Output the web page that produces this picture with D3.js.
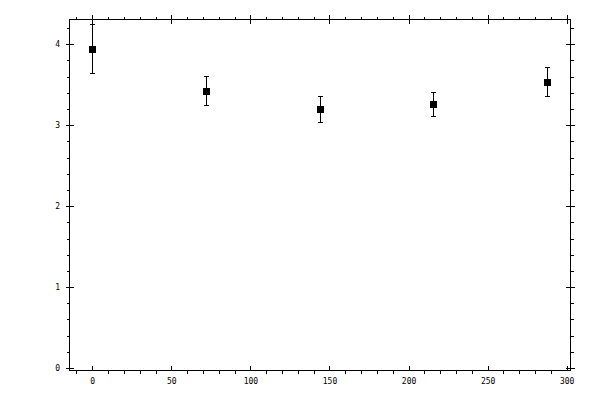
<!DOCTYPE html>
<html>
<head>
<meta charset="utf-8">
<script src="https://cdn.jsdelivr.net/npm/d3@7"></script>
<style>
  body { margin: 0; background: #fff; }
  text { font-family: "DejaVu Sans Mono", monospace; font-size: 8px; fill: #000; }
  line, rect { shape-rendering: crispEdges; }
</style>
</head>
<body>
<svg id="vis" width="600" height="400"></svg>
<script>
// datos del gráfico
const xValues = [0, 72, 144, 216, 288];
const yValues = [3.94, 3.42, 3.195, 3.256, 3.53];
const yErrors = [0.30, 0.18, 0.163, 0.15, 0.18];

const xMajorTicks = [0, 50, 100, 150, 200, 250, 300];
const yMajorTicks = [0, 1, 2, 3, 4];
const xMinorTicks = [-10, 10, 20, 30, 40, 60, 70, 80, 90, 110, 120, 130, 140, 160, 170, 180, 190,
                     210, 220, 230, 240, 260, 270, 280, 290];
const yMinorTicks = [0.2, 0.4, 0.6, 0.8, 1.2, 1.4, 1.6, 1.8, 2.2, 2.4, 2.6, 2.8,
                     3.2, 3.4, 3.6, 3.8, 4.2];

const SVG = d3.select("#vis");
const mLeft = 69.5, mRight = 570.5, mTop = 19.5, mBottom = 370.5;

const x = d3.scaleLinear().domain([-14.4, 302.4]).range([mLeft, mRight]);
const y = d3.scaleLinear().domain([-0.03, 4.305]).range([mBottom, mTop]);

function styleAxis(g) {
  g.select(".domain").remove();
  g.selectAll("line").attr("stroke", "#000").attr("stroke-width", 1);
}

// ejes menores (marcas hacia afuera)
SVG.append("g").attr("transform", `translate(0,${mBottom})`)
  .call(d3.axisBottom(x).tickValues(xMinorTicks).tickSize(3).tickFormat(""))
  .call(styleAxis);
SVG.append("g").attr("transform", `translate(0,${mTop})`)
  .call(d3.axisTop(x).tickValues(xMinorTicks).tickSize(3).tickFormat(""))
  .call(styleAxis);
SVG.append("g").attr("transform", `translate(${mLeft},0)`)
  .call(d3.axisLeft(y).tickValues(yMinorTicks).tickSize(3).tickFormat(""))
  .call(styleAxis);
SVG.append("g").attr("transform", `translate(${mRight},0)`)
  .call(d3.axisRight(y).tickValues(yMinorTicks).tickSize(3).tickFormat(""))
  .call(styleAxis);

// ejes mayores
SVG.append("g").attr("transform", `translate(0,${mBottom})`)
  .call(d3.axisBottom(x).tickValues(xMajorTicks).tickSize(-4.5).tickPadding(8).tickFormat(d3.format("d")))
  .call(styleAxis);
SVG.append("g").attr("transform", `translate(0,${mTop})`)
  .call(d3.axisTop(x).tickValues(xMajorTicks).tickSize(4.5).tickFormat(""))
  .call(styleAxis)
  .selectAll("line").attr("y1", 4.5);
SVG.append("g").attr("transform", `translate(${mLeft},0)`)
  .call(d3.axisLeft(y).tickValues(yMajorTicks).tickSize(4).tickPadding(5.5).tickFormat(d3.format("d")))
  .call(styleAxis)
  .selectAll("line").attr("x1", 4);
SVG.append("g").attr("transform", `translate(${mRight},0)`)
  .call(d3.axisRight(y).tickValues(yMajorTicks).tickSize(4.5).tickFormat(""))
  .call(styleAxis)
  .selectAll("line").attr("x1", -4.5);

// marco
SVG.append("rect")
  .attr("x", mLeft).attr("y", mTop)
  .attr("width", mRight - mLeft).attr("height", mBottom - mTop)
  .attr("fill", "none").attr("stroke", "#000").attr("stroke-width", 1);

const puntos = xValues.map((d, i) => ({ x: d, y: yValues[i], e: yErrors[i] }));

// barras de error
const err = SVG.append("g").attr("stroke", "#000").attr("stroke-width", 1);
err.selectAll("line.v").data(puntos).join("line").attr("class", "v")
  .attr("x1", d => x(d.x)).attr("x2", d => x(d.x))
  .attr("y1", d => y(d.y + d.e)).attr("y2", d => y(d.y - d.e));
err.selectAll("line.t").data(puntos).join("line").attr("class", "t")
  .attr("x1", d => x(d.x) - 2.5).attr("x2", d => x(d.x) + 2.5)
  .attr("y1", d => y(d.y + d.e)).attr("y2", d => y(d.y + d.e));
err.selectAll("line.b").data(puntos).join("line").attr("class", "b")
  .attr("x1", d => x(d.x) - 2.5).attr("x2", d => x(d.x) + 2.5)
  .attr("y1", d => y(d.y - d.e)).attr("y2", d => y(d.y - d.e));

// marcadores cuadrados
SVG.append("g").selectAll("rect").data(puntos).join("rect")
  .attr("x", d => x(d.x) - 3.5).attr("y", d => y(d.y) - 3.5)
  .attr("width", 7).attr("height", 7).attr("fill", "#000");
</script>
</body>
</html>
